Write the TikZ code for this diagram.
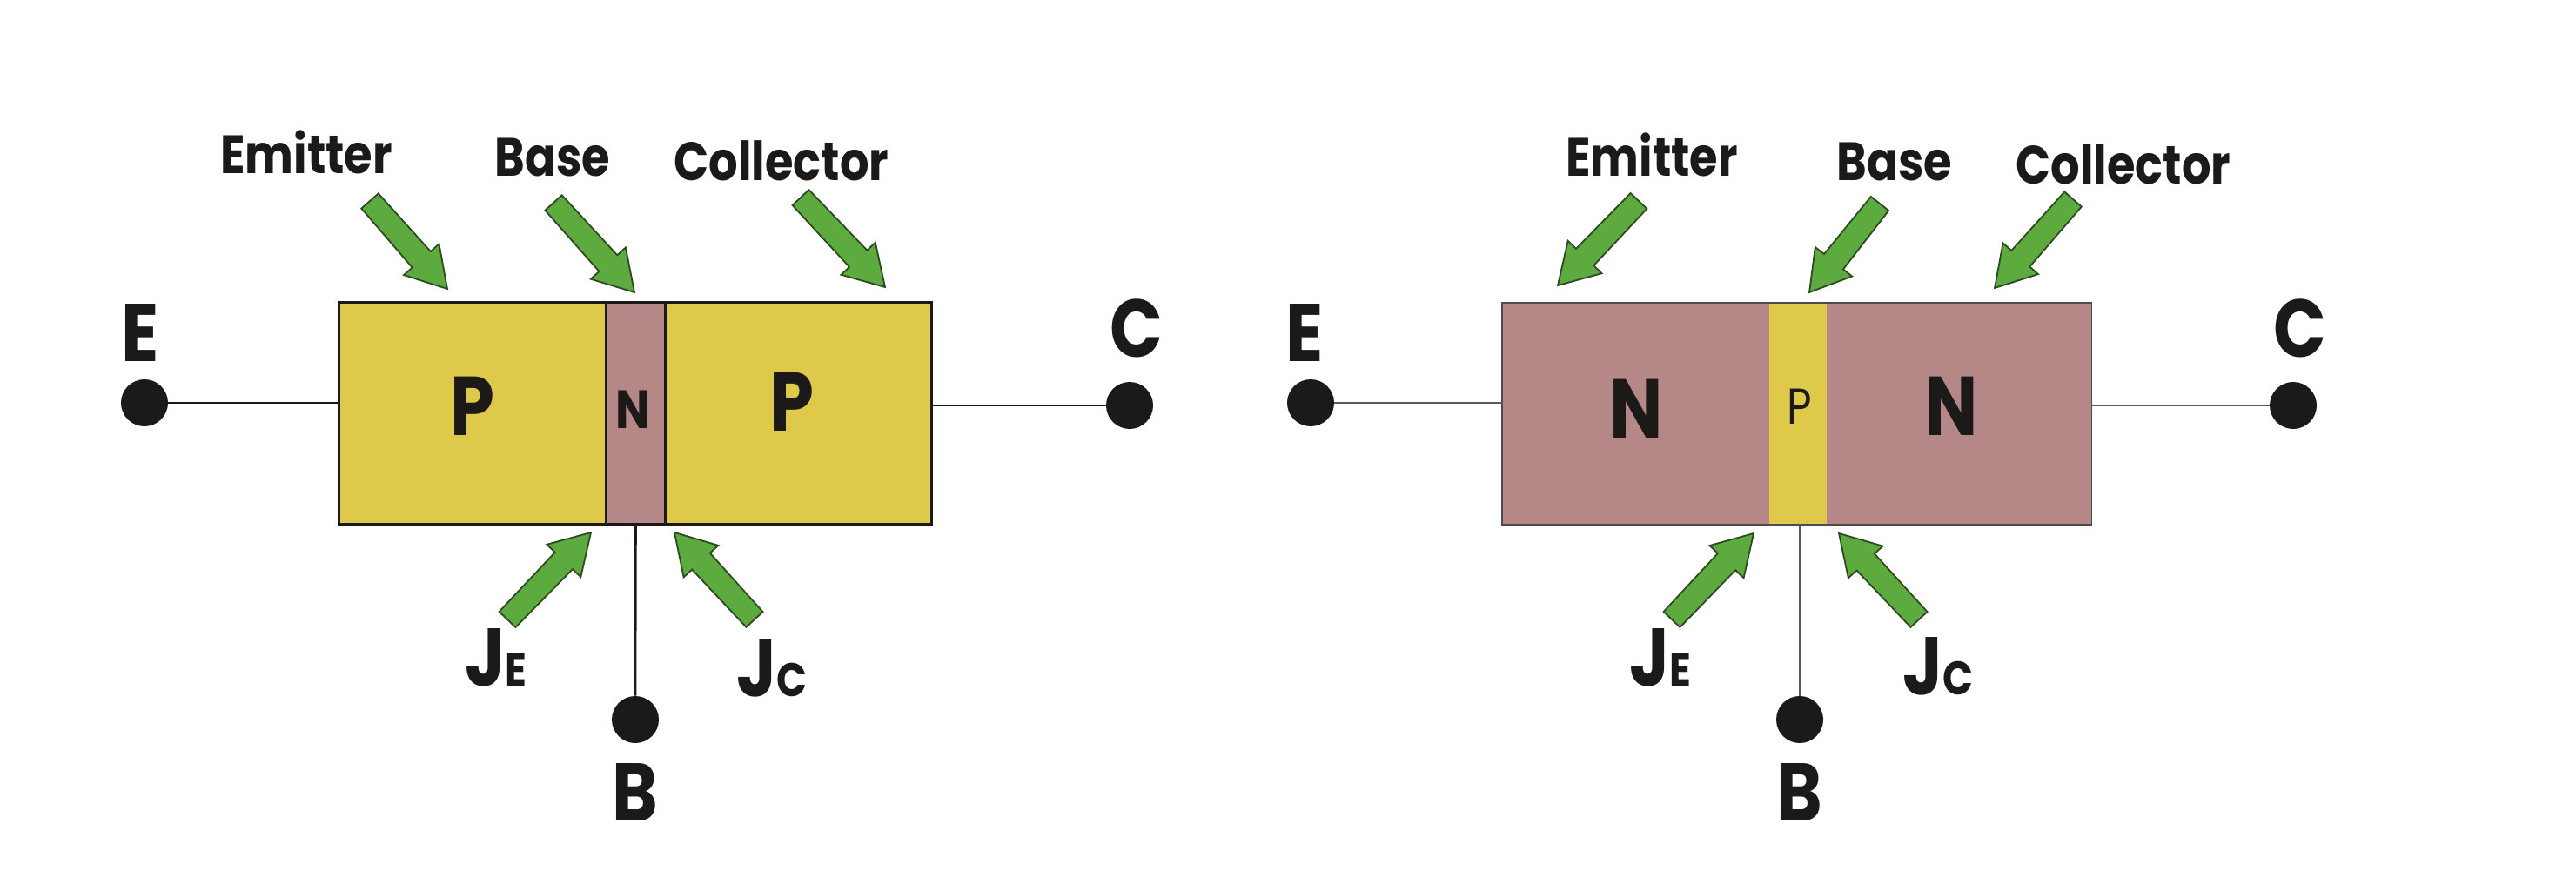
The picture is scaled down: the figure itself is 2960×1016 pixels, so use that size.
\documentclass[tikz,border=0pt]{standalone}
\usepackage{fontspec}
\setmainfont{Poppins}[FakeStretch=0.85]
\usetikzlibrary{calc}
\definecolor{pyel}{HTML}{DEC94A}
\definecolor{nmauve}{HTML}{B58787}
\definecolor{agreen}{HTML}{5DAA3E}
\definecolor{aedge}{HTML}{2E4A22}
\definecolor{ink}{HTML}{1C1A18}
\tikzset{
  lbl/.style={anchor=base,inner sep=0pt,text=ink,font=\bfseries\fontsize{47pt}{47pt}\selectfont},
  toplbl/.style={anchor=base,inner sep=0pt,text=ink,font=\bfseries\fontsize{31pt}{31pt}\selectfont},
  junc/.style={anchor=base,inner sep=0pt,text=ink,font=\bfseries\fontsize{47pt}{47pt}\selectfont},
  big/.style={anchor=base,inner sep=0pt,text=ink,font=\bfseries\fontsize{48pt}{48pt}\selectfont},
  small/.style={anchor=base,inner sep=0pt,text=ink,font=\bfseries\fontsize{31pt}{31pt}\selectfont},
  region/.style={rectangle,inner sep=0pt,minimum height=127pt},
  dot/.style={circle,fill=ink,inner sep=0pt,minimum size=27pt},
  wireL/.style={draw=ink,line width=1.3pt},
  wireR/.style={draw=black!65,line width=1pt},
  arrowbody/.style={fill=agreen,draw=aedge,line width=0.9pt,line join=miter},
}
\newcommand{\blockarr}[2]{%
  \coordinate (#2b) at ($(#2)!22.5pt!(#1)$);
  \filldraw[arrowbody] ($(#1)!6.5pt!90:(#2)$) -- ($(#2b)!7pt!-90:(#1)$) -- ($(#2b)!13.5pt!-90:(#1)$) -- (#2)
    -- ($(#2b)!13.5pt!90:(#1)$) -- ($(#2b)!7pt!90:(#1)$) -- ($(#1)!6.5pt!-90:(#2)$) -- cycle;}
\newcommand{\jsub}[1]{J{\fontsize{27pt}{27pt}\selectfont #1}}
\begin{document}
\begin{tikzpicture}[x=0.5pt,y=-0.5pt]
\fill[white] (0,0) rectangle (2960,1016);
\useasboundingbox (0,0) rectangle (2960,1016);

% ---------------- PNP (left) ----------------
\node[region,fill=pyel,minimum width=153.5pt] (lP1) at (543.5,475) {};
\node[region,fill=nmauve,minimum width=33.5pt] (lN) at (730.5,475) {};
\node[region,fill=pyel,minimum width=153pt] (lP2) at (917,475) {};
\draw[ink,line width=1.3pt] (lP1.north west) rectangle (lP2.south east);
\draw[ink,line width=1.3pt] (lN.north west) -- (lN.south west) (lN.north east) -- (lN.south east);
\node[big] (lP1t) at (543,500) {P};
\node[small] (lNt) at (727,492) {N};
\node[big] (lP2t) at (910,495) {P};

\node[dot] (lE) at (166,463) {};
\node[dot] (lC) at (1298,466) {};
\node[dot] (lB) at (730,827) {};
\draw[wireL] (lE.east) -- (lE.east -| lP1.west);
\draw[wireL] (lC.west) -- (lC.west -| lP2.east);
\draw[wireL] (lN.south) -- (lB.north);
\node[lbl] (lEt) at (161,415) {E};
\node[lbl] (lCt) at (1306,410) {C};
\node[lbl] (lBt) at (730,943) {B};

\node[toplbl] (lEm) at (352,200) {Emitter};
\node[toplbl] (lBa) at (635,203) {Base};
\node[toplbl] (lCo) at (898,208) {Collector};

\coordinate (lemT) at (425,231); \coordinate (lemH) at (514,332);
\coordinate (lbaT) at (636,233); \coordinate (lbaH) at (729,336);
\coordinate (lcoT) at (920,227); \coordinate (lcoH) at (1017,330);
\coordinate (ljeT) at (583,712); \coordinate (ljeH) at (679,612);
\coordinate (ljcT) at (867,712); \coordinate (ljcH) at (775,612);
\blockarr{lemT}{lemH}
\blockarr{lbaT}{lbaH}
\blockarr{lcoT}{lcoH}
\blockarr{ljeT}{ljeH}
\blockarr{ljcT}{ljcH}
\node[junc] (lJE) at (570,788) {\jsub{E}};
\node[junc] (lJC) at (887,800) {\jsub{C}};

% ---------------- NPN (right) ----------------
\node[region,fill=nmauve,minimum width=153.5pt] (rN1) at (1879.5,475.5) {};
\node[region,fill=pyel,minimum width=33pt] (rP) at (2066,475.5) {};
\node[region,fill=nmauve,minimum width=152pt] (rN2) at (2251,475.5) {};
\draw[black!70,line width=0.9pt] (rN1.north west) rectangle (rN2.south east);
\node[big] (rN1t) at (1880,503) {N};
\node[small,font=\fontsize{29pt}{29pt}\selectfont] (rPt) at (2068,487) {P};
\node[big] (rN2t) at (2242,500) {N};

\node[dot] (rE) at (1506,463) {};
\node[dot] (rC) at (2635,466) {};
\node[dot] (rB) at (2068,827) {};
\draw[wireR] (rE.east) -- (rE.east -| rN1.west);
\draw[wireR] (rC.west) -- (rC.west -| rN2.east);
\draw[wireR] (rB.north |- rP.south) -- (rB.north);
\node[lbl] (rEt) at (1499,415) {E};
\node[lbl] (rCt) at (2643,410) {C};
\node[lbl] (rBt) at (2068,943) {B};

\node[toplbl] (rEm) at (1898,203) {Emitter};
\node[toplbl] (rBa) at (2177,208) {Base};
\node[toplbl] (rCo) at (2440,212) {Collector};

\coordinate (remT) at (1883,231); \coordinate (remH) at (1790,328);
\coordinate (rbaT) at (2160,234); \coordinate (rbaH) at (2079,336);
\coordinate (rcoT) at (2382,229); \coordinate (rcoH) at (2292,331);
\coordinate (rjeT) at (1921,712); \coordinate (rjeH) at (2015,613);
\coordinate (rjcT) at (2205,712); \coordinate (rjcH) at (2113,613);
\blockarr{remT}{remH}
\blockarr{rbaT}{rbaH}
\blockarr{rcoT}{rcoH}
\blockarr{rjeT}{rjeH}
\blockarr{rjcT}{rjcH}
\node[junc] (rJE) at (1908,788) {\jsub{E}};
\node[junc] (rJC) at (2227,798) {\jsub{C}};
\end{tikzpicture}
\end{document}
